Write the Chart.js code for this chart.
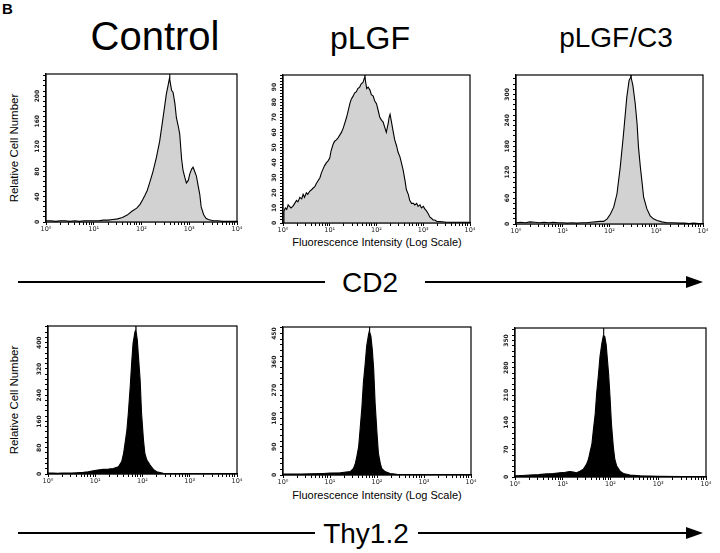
<!DOCTYPE html>
<html><head><meta charset="utf-8">
<script src="https://cdn.jsdelivr.net/npm/chart.js@4/dist/chart.umd.min.js"></script>
<style>
html,body{margin:0;padding:0;background:#fff;}
body{width:720px;height:553px;position:relative;overflow:hidden;font-family:"Liberation Sans",Arial,sans-serif;color:#000;}
canvas{position:absolute;}
.t{position:absolute;white-space:nowrap;line-height:1;}
.title{transform:translateX(-50%);}
.ylab{font-size:11.5px;transform:translate(-50%,-50%) rotate(-90deg);}
.xlab{font-size:11px;transform:translateX(-50%);}
.arrlab{font-size:28px;transform:translateX(-50%);}
.line{position:absolute;height:1.6px;background:#000;}
.head{position:absolute;width:0;height:0;border-top:6px solid transparent;border-bottom:6px solid transparent;border-left:17px solid #000;}
</style></head>
<body>
<div class="t" style="left:2px;top:1px;font-size:15px;font-weight:bold;">B</div>
<div class="t title" style="left:155px;top:16px;font-size:40px;">Control</div>
<div class="t title" style="left:370px;top:22px;font-size:32px;">pLGF</div>
<div class="t title" style="left:616px;top:24px;font-size:28px;">pLGF/C3</div>
<div class="t ylab" style="left:15px;top:148px;">Relative Cell Number</div>
<div class="t ylab" style="left:15px;top:400px;">Relative Cell Number</div>
<div class="t xlab" style="left:377px;top:237px;">Fluorescence Intensity (Log Scale)</div>
<div class="t xlab" style="left:377px;top:490px;">Fluorescence Intensity (Log Scale)</div>
<div class="line" style="left:18px;top:281px;width:307px;"></div>
<div class="t arrlab" style="left:370px;top:269px;">CD2</div>
<div class="line" style="left:425px;top:281px;width:265px;"></div>
<div class="head" style="left:686px;top:276px;"></div>
<div class="line" style="left:18px;top:532px;width:297px;"></div>
<div class="t arrlab" style="left:366px;top:520px;">Thy1.2</div>
<div class="line" style="left:418px;top:532px;width:272px;"></div>
<div class="head" style="left:686px;top:527px;"></div>

<canvas id="c1"></canvas><canvas id="c2"></canvas><canvas id="c3"></canvas>
<canvas id="c4"></canvas><canvas id="c5"></canvas><canvas id="c6"></canvas>

<script>
// x values are log10 fluorescence (decades 10^0 .. 10^4), y values are cell counts
const decadeLabels = ['10\u2070','10\u00b9','10\u00b2','10\u00b3','10\u2074'];

const cd2ControlX = [0,0.1,0.2,0.3,0.4,0.5,0.6,0.7,0.8,0.9,1.0,1.1,1.2,1.3,1.4,1.5,1.6,1.7,1.8,1.9,1.97,2.03,2.07,2.12,2.17,2.24,2.31,2.38,2.45,2.52,2.56,2.585,2.59,2.595,2.63,2.66,2.70,2.73,2.77,2.80,2.84,2.87,2.91,2.94,2.98,3.01,3.05,3.08,3.11,3.15,3.18,3.22,3.25,3.30,3.35,3.40,3.5,3.6,3.7,3.8,3.9,4.0];
const cd2ControlY = [2,2,1,2,2,1,2,1,2,2,2,2,3,3,4,5,7,11,17,22,28,36,42,50,62,80,102,128,165,203,218,228,245,226,209,206,188,166,152,140,100,82,70,62,66,76,84,87,81,73,60,44,24,12,6,4,2,2,1,1,1,1];

const cd2PlgfX = [0,0.02,0.05,0.08,0.11,0.14,0.17,0.21,0.25,0.29,0.32,0.36,0.40,0.43,0.46,0.5,0.53,0.57,0.61,0.64,0.68,0.71,0.75,0.79,0.82,0.86,0.89,0.93,0.96,1.0,1.03,1.07,1.10,1.14,1.17,1.21,1.25,1.29,1.32,1.36,1.40,1.43,1.46,1.5,1.53,1.57,1.60,1.64,1.67,1.71,1.74,1.75,1.76,1.79,1.82,1.86,1.89,1.93,1.96,2.0,2.04,2.07,2.11,2.14,2.18,2.21,2.25,2.27,2.29,2.32,2.36,2.39,2.43,2.46,2.5,2.54,2.57,2.61,2.64,2.68,2.71,2.75,2.79,2.82,2.86,2.89,2.93,2.96,3.0,3.04,3.07,3.11,3.14,3.18,3.21,3.25,3.29,3.36,3.5,3.7,4.0];
const cd2PlgfY = [0,8,10,9,12,11,10,11,13,15,14,17,16,19,17,20,19,21,22,23,24,26,28,30,33,36,38,40,41,43,48,52,54,55,56,58,60,63,66,70,75,79,82,84,86,87,89,90,92,93,96,100,95,89,90,88,85,84,81,79,74,70,68,67,63,60,66,70,72,67,60,55,51,47,44,39,35,28,22,19,15,13,13,12,13,11,12,10,11,9,8,6,4,3,2,2,1,1,0.5,0.5,0.5];

const cd2PlgfC3X = [0,0.1,0.2,0.3,0.4,0.5,0.6,0.7,0.8,0.9,1.0,1.1,1.2,1.3,1.4,1.5,1.6,1.7,1.8,1.875,1.95,2.02,2.09,2.16,2.23,2.30,2.37,2.42,2.455,2.46,2.465,2.50,2.55,2.59,2.62,2.66,2.70,2.73,2.80,2.87,2.94,3.02,3.12,3.23,3.35,3.5,3.6,3.7,3.8,3.9,4.0];
const cd2PlgfC3Y = [3,4,3,5,4,3,4,3,4,3,3,2,3,2,3,3,4,5,6,6,12,23,39,70,132,209,294,333,340,360,338,321,279,232,178,132,93,62,35,19,12,8,5,3,3,2,2,1,2,1,1];

const thyControlX = [0,0.1,0.2,0.3,0.4,0.5,0.61,0.75,0.85,0.96,1.05,1.17,1.28,1.38,1.49,1.56,1.60,1.63,1.67,1.70,1.74,1.77,1.80,1.84,1.855,1.86,1.865,1.89,1.91,1.95,1.98,2.02,2.05,2.09,2.16,2.23,2.30,2.44,2.65,3.0,3.5,4.0];
const thyControlY = [3,3,2,3,3,3,4,5,7,10,12,14,15,17,22,38,63,93,134,185,266,337,398,433,438,460,434,408,367,286,185,104,63,43,27,14,7,2,1,1,1,1];

const thyPlgfX = [0,0.2,0.4,0.6,0.86,1.0,1.22,1.43,1.50,1.54,1.57,1.61,1.64,1.68,1.71,1.75,1.78,1.82,1.835,1.84,1.845,1.87,1.90,1.93,1.96,2.0,2.03,2.07,2.10,2.17,2.28,2.42,2.7,3.0,3.5,4.0];
const thyPlgfY = [3,3,3,4,5,6,7,11,21,37,58,90,144,218,293,356,410,447,457,480,455,442,399,335,229,133,69,37,21,11,5,2,1,1,1,1];

const thyPlgfC3X = [0,0.15,0.31,0.5,0.66,0.8,0.94,1.05,1.15,1.22,1.29,1.36,1.43,1.50,1.54,1.57,1.61,1.64,1.68,1.71,1.75,1.78,1.82,1.85,1.855,1.86,1.88,1.91,1.93,1.96,1.99,2.02,2.06,2.09,2.13,2.20,2.27,2.41,2.62,3.0,3.5,4.0];
const thyPlgfC3Y = [3,4,5,6,8,9,11,12,14,13,11,15,20,33,46,63,84,119,162,214,265,309,343,362,390,362,360,339,309,265,205,136,76,46,28,15,9,5,3,2,1,1];

// y-axis ranges and tick steps [max, minor step, labelled step]
const yAxes = [[235,8,40],[98,2,10],[345,12,60],[451,16,80],[471,18,90],[382,14,70]];

const YW = 22, XH = 15, PT = 3, PR = 7;
// plot-box layout (left, right, top, bottom) in page pixels
const boxes = [[46,237,74,222],[283,470,75,223],[516,703,75,224],[48,237,326,474],[283,471,327,475],[515,706,328,477]];
const series = [[cd2ControlX,cd2ControlY],[cd2PlgfX,cd2PlgfY],[cd2PlgfC3X,cd2PlgfC3Y],[thyControlX,thyControlY],[thyPlgfX,thyPlgfY],[thyPlgfC3X,thyPlgfC3Y]];

function xTicks(){
  const t=[];
  for(let k=0;k<4;k++){for(let m=1;m<10;m++){t.push({value:k+Math.log10(m)});}}
  t.push({value:4});
  return t;
}

const boxPlugin = {
  id:'boxPlugin',
  afterDraw(chart, args, opts){
    const a = chart.chartArea, ctx = chart.ctx;
    ctx.save();
    ctx.strokeStyle='#000'; ctx.lineWidth=1.2;
    ctx.strokeRect(a.left, a.top, a.right-a.left, a.bottom-a.top);
    const ys = chart.scales.y;
    ctx.fillStyle='#222';
    ctx.font='bold 6px "DejaVu Sans"';
    ctx.textAlign='center'; ctx.textBaseline='middle';
    for(let v=0; v<=opts.max; v+=opts.major){
      const py = ys.getPixelForValue(v);
      ctx.save();
      ctx.translate(a.left-9, py);
      ctx.rotate(-Math.PI/2);
      ctx.fillText(String(v),0,0);
      ctx.restore();
    }
    ctx.restore();
  }
};

for(let i=0;i<6;i++){
  const [L,R,T,B] = boxes[i];
  const cv = document.getElementById('c'+(i+1));
  const w = (R-L)+YW+PR, h = (B-T)+PT+XH;
  cv.width=w; cv.height=h;
  cv.style.left=(L-YW)+'px'; cv.style.top=(T-PT)+'px';
  cv.style.width=w+'px'; cv.style.height=h+'px';
  const [xs,ys] = series[i];
  const n = Math.min(xs.length, ys.length);
  const pts = [];
  for(let j=0;j<n;j++) pts.push({x:xs[j], y:ys[j]});
  const [ymax, ystep, ymajor] = yAxes[i];
  const dark = i>=3;
  new Chart(cv, {
    type:'line',
    data:{datasets:[{
      data:pts,
      borderColor:'#000',
      borderWidth:1.1,
      backgroundColor: dark ? '#000' : '#d2d2d2',
      fill:'origin',
      pointRadius:0,
      tension:0
    }]},
    options:{
      responsive:false, animation:false, devicePixelRatio:1,
      layout:{padding:{left:0,top:PT,right:PR,bottom:0}},
      plugins:{legend:{display:false}, tooltip:{enabled:false}, boxPlugin:{max:ymax, major:ymajor}},
      scales:{
        x:{
          type:'linear', min:0, max:4,
          afterBuildTicks(s){ s.ticks = xTicks(); },
          afterFit(s){ s.height = XH; },
          grid:{drawOnChartArea:false, drawTicks:true, tickLength:3, color:'#000', lineWidth:1},
          border:{display:true, color:'#000', width:1.2},
          ticks:{
            autoSkip:false, maxRotation:0, minRotation:0, padding:0,
            color:'#222', font:{family:'DejaVu Sans', size:6.5},
            callback(v){ const r=Math.round(v); return Math.abs(v-r)<1e-6 ? decadeLabels[r] : ''; }
          }
        },
        y:{
          type:'linear', min:0, max:ymax,
          afterBuildTicks(s){ const t=[]; for(let v=0; v<=ymax; v+=ystep) t.push({value:v}); s.ticks=t; },
          afterFit(s){ s.width = YW; },
          grid:{drawOnChartArea:false, drawTicks:true, tickLength:3, color:'#000', lineWidth:1},
          border:{display:true, color:'#000', width:1.2},
          ticks:{display:false}
        }
      }
    },
    plugins:[boxPlugin]
  });
}
</script>
</body></html>
